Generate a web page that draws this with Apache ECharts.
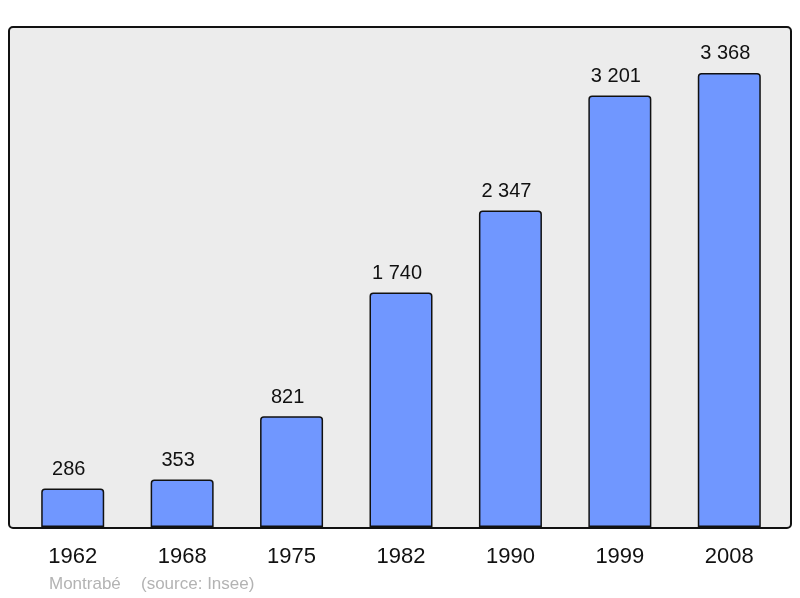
<!DOCTYPE html>
<html>
<head>
<meta charset="utf-8">
<script src="https://cdn.jsdelivr.net/npm/echarts@6/dist/echarts.min.js"></script>
<style>html,body{margin:0;padding:0;background:#fff}#c{width:800px;height:598px}</style>
</head>
<body>
<div id="c"></div>
<script>
var years = ['1962','1968','1975','1982','1990','1999','2008'];
var population = [286, 353, 821, 1740, 2347, 3201, 3368];
var footerPlace = 'Montrabé';
var footerSource = '(source: Insee)';

function fmt(v){ return String(v).replace(/\B(?=(\d{3})+(?!\d))/g, ' '); }

var chart = echarts.init(document.getElementById('c'), null, {renderer:'canvas'});
chart.setOption({
  animation: false,
  textStyle: {fontFamily: 'Liberation Sans'},
  graphic: [
    {type:'rect', z:-10, shape:{x:9, y:27, width:782, height:501, r:4},
     style:{fill:'#ececec', stroke:'#111', lineWidth:2}},
    {type:'text', x:49, y:584, style:{text:footerPlace, fill:'#b3b3b3', font:'17px "Liberation Sans"', textVerticalAlign:'middle', verticalAlign:'middle'}},
    {type:'text', x:141, y:584, style:{text:footerSource, fill:'#b3b3b3', font:'17px "Liberation Sans"', textVerticalAlign:'middle', verticalAlign:'middle'}}
  ],
  grid: {left:18, right:16, top:27, bottom:71},
  xAxis: {
    type:'category', data: years,
    axisLine:{show:false}, axisTick:{show:false},
    axisLabel:{fontSize:22, color:'#111', margin:19, fontFamily:'Liberation Sans'}
  },
  yAxis: {
    type:'value', min:0, max:3709, show:false, splitLine:{show:false}
  },
  series: [{
    type:'bar', data: population, barWidth:63,
    itemStyle:{color:'#7097ff', borderColor:'#111', borderWidth:1.5, borderRadius:[3,3,0,0]},
    label:{show:true, position:'top', distance:9, offset:[-4,0], fontSize:20, color:'#111', fontFamily:'Liberation Sans',
      formatter:function(p){return fmt(p.value);}}
  }]
});
</script>
</body>
</html>
